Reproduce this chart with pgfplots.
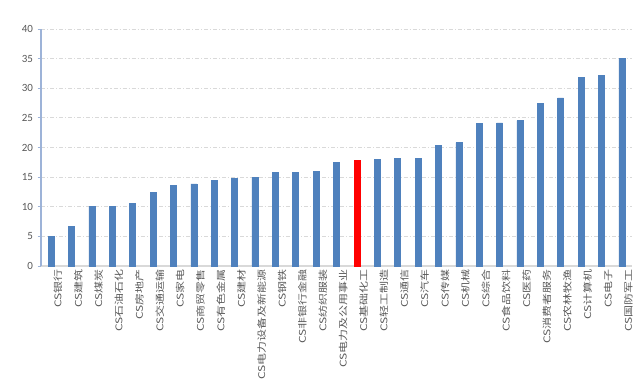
\documentclass[border=0pt]{standalone}
\usepackage{pgfplots}
\pgfplotsset{compat=1.18}
\usepackage{fontspec}
\setmainfont{Carlito}
\newfontfamily\cjk[FakeStretch=1.3]{Noto Sans CJK SC}
\definecolor{barblue}{HTML}{4F81BD}
\definecolor{tickgray}{HTML}{595959}
\definecolor{gridgray}{HTML}{D9D9D9}
\definecolor{yaxisblue}{HTML}{9DB3D8}
\begin{document}
\begin{tikzpicture}
\useasboundingbox (-30.75pt,-87.75pt) rectangle (447.75pt,199.5pt);
\begin{axis}[
  scale only axis,
  width=443.25pt, height=177.75pt,
  xmin=-0.5, xmax=28.5, ymin=0, ymax=40,
  ytick={0,5,...,40},
  axis lines=left,
  axis line style={-},
  x axis line style={draw=gridgray, line width=0.8pt},
  y axis line style={draw=yaxisblue, line width=0.8pt},
  ymajorgrids,
  grid style={draw=gridgray, line width=0.6pt, dash pattern=on 3pt off 1.5pt on 0.8pt off 1.5pt},
  major y tick style={draw=yaxisblue, line width=0.6pt},
  tick align=outside,
  major tick length=2.5pt,
  major x tick style={draw=none},
  xtick={0,1,...,28},
  xticklabels={CS银行,CS建筑,CS煤炭,CS石油石化,CS房地产,CS交通运输,CS家电,CS商贸零售,CS有色金属,CS建材,CS电力设备及新能源,CS钢铁,CS非银行金融,CS纺织服装,CS电力及公用事业,CS基础化工,CS轻工制造,CS通信,CS汽车,CS传媒,CS机械,CS综合,CS食品饮料,CS医药,CS消费者服务,CS农林牧渔,CS计算机,CS电子,CS国防军工},
  xticklabel style={rotate=90, anchor=east, font=\cjk\fontsize{6.9}{7}\selectfont, text=tickgray, inner sep=0pt, yshift=-5pt},
  yticklabel style={font=\fontsize{8.25}{9}\selectfont, text=tickgray},
  /pgf/number format/assume math mode=true,
  ybar, bar width=4.5pt,
]
\addplot[fill=barblue, draw=barblue, bar shift=0pt] coordinates {
(0,5.0) (1,6.7) (2,10.06) (3,10.06) (4,10.56) (5,12.37) (6,13.6) (7,13.88) (8,14.44) (9,14.83)
(10,14.94) (11,15.79) (12,15.79) (13,15.96) (14,17.47) (16,17.98) (17,18.15) (18,18.15) (19,20.34)
(20,20.84) (21,24.1) (22,24.16) (23,24.55) (24,27.4) (25,28.37) (26,31.85) (27,32.13) (28,35.0)
};
\addplot[fill=red, draw=red, bar shift=0pt] coordinates {(15,17.8)};
\end{axis}
\end{tikzpicture}
\end{document}
